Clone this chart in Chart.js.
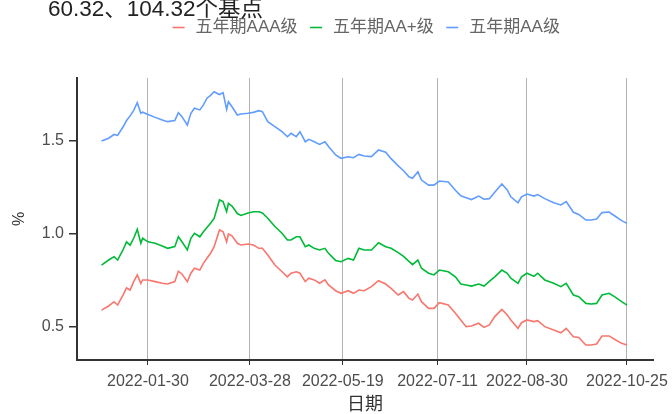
<!DOCTYPE html>
<html>
<head>
<meta charset="utf-8">
<script src="https://cdn.jsdelivr.net/npm/chart.js@4/dist/chart.umd.min.js"></script>
<style>
  html, body { margin: 0; padding: 0; background: #ffffff; }
  #wrap { width: 672px; height: 414px; position: relative; }
</style>
</head>
<body>
<div id="wrap"><canvas id="c" width="672" height="414"></canvas></div>
<script>
const headerText = '60.32、104.32个基点';
const seriesNames = ['五年期AAA级', '五年期AA+级', '五年期AA级'];
const seriesColors = ['#F8766D', '#00BA38', '#619CFF'];

const dates = [
  '2022-01-04','2022-01-08','2022-01-11','2022-01-13','2022-01-16','2022-01-18','2022-01-20','2022-01-22','2022-01-24','2022-01-26',
  '2022-01-27','2022-01-30','2022-02-03','2022-02-07','2022-02-10','2022-02-14','2022-02-16','2022-02-18','2022-02-21','2022-02-23',
  '2022-02-25','2022-02-28','2022-03-02','2022-03-04','2022-03-06','2022-03-08','2022-03-11','2022-03-13','2022-03-15','2022-03-16',
  '2022-03-18','2022-03-21','2022-03-23','2022-03-27','2022-03-30','2022-04-02','2022-04-04','2022-04-07','2022-04-11','2022-04-15',
  '2022-04-18','2022-04-20','2022-04-23','2022-04-25','2022-04-28','2022-04-30','2022-05-03','2022-05-06','2022-05-09','2022-05-11',
  '2022-05-15','2022-05-18','2022-05-22','2022-05-25','2022-05-28','2022-05-31',
  '2022-06-04','2022-06-08','2022-06-12','2022-06-15','2022-06-19','2022-06-22','2022-06-25','2022-06-27','2022-06-30','2022-07-02',
  '2022-07-06','2022-07-09','2022-07-12','2022-07-17','2022-07-21','2022-07-24','2022-07-27','2022-07-30','2022-08-03','2022-08-06',
  '2022-08-09','2022-08-12','2022-08-16','2022-08-19','2022-08-21','2022-08-25','2022-08-27','2022-08-30','2022-09-03','2022-09-05',
  '2022-09-09','2022-09-14','2022-09-18','2022-09-21','2022-09-25','2022-09-28','2022-10-02','2022-10-05','2022-10-08','2022-10-11',
  '2022-10-15','2022-10-18','2022-10-22','2022-10-25'
];

const aaa = [
  0.591,0.613,0.636,0.618,0.672,0.71,0.699,0.744,0.78,0.735,
  0.753,0.753,0.744,0.735,0.731,0.744,0.80,0.785,0.744,0.789,
  0.816,0.806,0.842,0.87,0.896,0.932,1.022,1.012,0.958,1.0,
  0.99,0.95,0.941,0.946,0.941,0.923,0.923,0.887,0.833,0.797,
  0.77,0.789,0.797,0.789,0.744,0.762,0.753,0.735,0.753,0.726,
  0.695,0.681,0.695,0.681,0.699,0.695,
  0.717,0.749,0.731,0.708,0.672,0.69,0.654,0.645,0.677,0.636,
  0.6,0.6,0.631,0.618,0.574,0.538,0.502,0.505,0.52,0.498,
  0.511,0.556,0.595,0.565,0.538,0.493,0.523,0.538,0.529,0.534,
  0.502,0.484,0.469,0.493,0.448,0.444,0.403,0.403,0.409,0.452,
  0.452,0.434,0.412,0.403
];

const aaPlus = [
  0.833,0.86,0.878,0.86,0.914,0.958,0.94,0.977,1.025,0.95,
  0.977,0.958,0.95,0.935,0.923,0.932,0.985,0.958,0.914,0.977,
  1.004,0.985,1.012,1.035,1.058,1.084,1.183,1.174,1.12,1.165,
  1.15,1.11,1.10,1.113,1.12,1.12,1.113,1.085,1.04,1.004,
  0.968,0.968,0.985,0.985,0.932,0.941,0.923,0.914,0.923,0.896,
  0.858,0.851,0.869,0.86,0.923,0.914,
  0.914,0.953,0.932,0.923,0.9,0.88,0.853,0.835,0.86,0.816,
  0.789,0.78,0.806,0.797,0.77,0.731,0.726,0.72,0.731,0.72,
  0.745,0.77,0.806,0.789,0.762,0.735,0.77,0.789,0.772,0.789,
  0.753,0.735,0.717,0.735,0.672,0.663,0.627,0.624,0.627,0.672,
  0.681,0.663,0.636,0.618
];

const aa = [
  1.50,1.515,1.535,1.53,1.575,1.61,1.635,1.665,1.706,1.649,
  1.655,1.643,1.627,1.613,1.604,1.61,1.652,1.631,1.586,1.649,
  1.676,1.667,1.694,1.73,1.745,1.765,1.75,1.76,1.67,1.711,
  1.684,1.64,1.645,1.649,1.654,1.663,1.658,1.604,1.577,1.55,
  1.523,1.541,1.523,1.55,1.496,1.509,1.496,1.482,1.496,1.47,
  1.425,1.407,1.415,1.41,1.428,1.419,
  1.416,1.452,1.44,1.405,1.366,1.34,1.308,1.3,1.335,1.29,
  1.263,1.263,1.285,1.28,1.235,1.205,1.195,1.185,1.204,1.187,
  1.19,1.225,1.269,1.237,1.2,1.168,1.2,1.215,1.204,1.212,
  1.19,1.168,1.156,1.174,1.117,1.105,1.075,1.075,1.08,1.115,
  1.118,1.098,1.072,1.057
];

const xTickLabels = ['2022-01-30','2022-03-28','2022-05-19','2022-07-11','2022-08-30','2022-10-25'];
const yTickValues = [0.5, 1.0, 1.5];

function dayNum(s) {
  const p = s.split('-').map(Number);
  return (Date.UTC(p[0], p[1] - 1, p[2]) - Date.UTC(2022, 0, 1)) / 86400000;
}

const xTickValues = xTickLabels.map(dayNum);
const seriesValues = [aaa, aaPlus, aa];

const datasets = seriesValues.map((vals, k) => ({
  label: seriesNames[k],
  data: dates.map((d, i) => ({ x: dayNum(d), y: vals[i] })),
  borderColor: seriesColors[k],
  backgroundColor: seriesColors[k],
  borderWidth: 1.6,
  pointRadius: 0,
  pointHoverRadius: 0,
  tension: 0,
  fill: false
}));

const FONT = "'Liberation Sans', 'Noto Sans CJK SC', sans-serif";

const headerPlugin = {
  id: 'header',
  afterDraw(chart) {
    const ctx = chart.ctx;
    ctx.save();
    ctx.font = '22.5px ' + FONT;
    ctx.fillStyle = '#222222';
    ctx.textBaseline = 'alphabetic';
    ctx.textAlign = 'left';
    ctx.fillText(headerText, 48, 16);
    ctx.restore();
  }
};

new Chart(document.getElementById('c'), {
  type: 'line',
  data: { datasets },
  plugins: [headerPlugin],
  options: {
    responsive: false,
    animation: false,
    events: [],
    layout: { padding: { top: 9, right: 19, bottom: 0, left: 0 } },
    plugins: {
      legend: {
        display: true,
        position: 'top',
        fullSize: false,
        weight: 1000,
        labels: {
          usePointStyle: true,
          pointStyle: 'line',
          boxWidth: 17,
          boxHeight: 8.5,
          padding: 10,
          color: '#666666',
          font: { family: FONT, size: 17 }
        }
      },
      subtitle: {
        display: true,
        text: '',
        weight: 100,
        font: { size: 10, lineHeight: 1 },
        padding: { top: 0, bottom: 22 }
      },
      title: { display: false },
      tooltip: { enabled: false }
    },
    scales: {
      x: {
        type: 'linear',
        min: -10.72,
        max: 311.55,
        afterBuildTicks(scale) { scale.ticks = xTickValues.map(v => ({ value: v })); },
        afterFit(scale) { scale.height = 54; scale.paddingLeft = 0; scale.paddingRight = 0; },
        ticks: {
          autoSkip: false,
          maxRotation: 0,
          padding: 7,
          color: '#4d4d4d',
          font: { family: FONT, size: 16 },
          callback(value) {
            const i = xTickValues.indexOf(value);
            return i >= 0 ? xTickLabels[i] : '';
          }
        },
        grid: {
          display: true,
          drawOnChartArea: true,
          drawTicks: true,
          tickLength: 5,
          color: '#b3b3b3',
          tickColor: '#333333',
          lineWidth: 1
        },
        border: { display: true, color: '#333333', width: 2 },
        title: {
          display: true,
          text: '日期',
          color: '#333333',
          font: { family: FONT, size: 18, lineHeight: 1 },
          padding: { top: 0, bottom: 0 }
        }
      },
      y: {
        type: 'linear',
        min: 0.3226,
        max: 1.8387,
        afterBuildTicks(scale) { scale.ticks = yTickValues.map(v => ({ value: v })); },
        afterFit(scale) { scale.width = 77; scale.paddingTop = 0; scale.paddingBottom = 0; },
        ticks: {
          padding: 5,
          color: '#4d4d4d',
          font: { family: FONT, size: 16 },
          callback(value) { return Number(value).toFixed(1); }
        },
        grid: {
          display: true,
          drawOnChartArea: false,
          drawTicks: true,
          tickLength: 8,
          tickColor: '#333333',
          lineWidth: 1.5
        },
        border: { display: true, color: '#333333', width: 2 },
        title: {
          display: true,
          text: '%',
          color: '#333333',
          font: { family: FONT, size: 16, lineHeight: 1 },
          padding: { top: 12, bottom: 0 }
        }
      }
    }
  }
});
</script>
</body>
</html>
